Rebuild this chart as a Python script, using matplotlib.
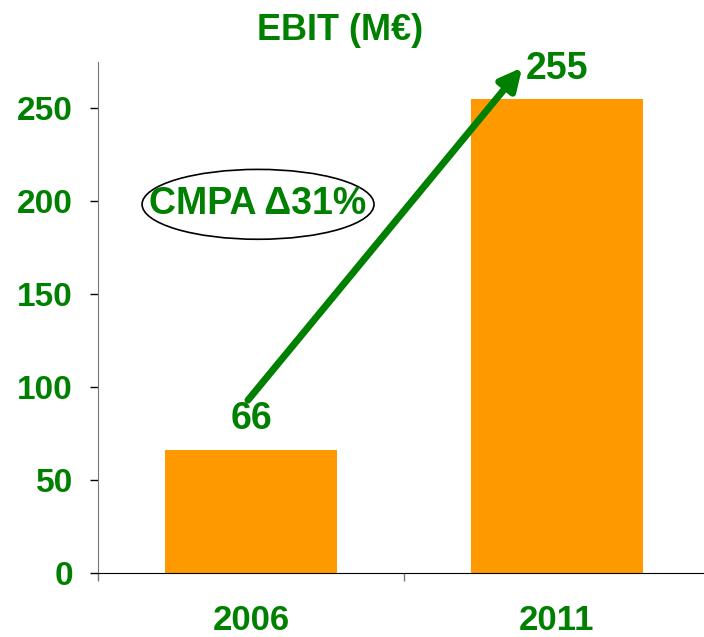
import matplotlib
matplotlib.use("Agg")
import matplotlib.pyplot as plt
from matplotlib.patches import Ellipse

years = ["2006", "2011"]
ebit = [66, 255]
yticks = [0, 50, 100, 150, 200, 250]
title = "EBIT (M€)"
cagr_label = "CMPA Δ31%"

GREEN = "#008000"
ORANGE = "#FF9900"
fam = ["Liberation Sans", "DejaVu Sans"]

fig = plt.figure(figsize=(7.04, 6.37), dpi=100)
ax = fig.add_axes([98/704, 1-573/637, 612/704, (573-62)/637])

x = list(range(len(years)))
ax.bar(x, ebit, width=0.56, color=ORANGE, zorder=2)
ax.set_xlim(-0.5, 1.5)
ax.set_ylim(0, 275)

ax.set_yticks(yticks)
ax.set_yticklabels([str(v) for v in yticks], fontsize=24, fontweight="bold",
                   color=GREEN, family=fam)
ax.tick_params(axis="y", length=6, width=1, color="black", pad=12)

ax.set_xticks(x)
ax.set_xticklabels(years, fontsize=25, fontweight="bold", color=GREEN, family=fam)
ax.tick_params(axis="x", which="major", length=0, pad=22)
ax.set_xticks([-0.5, 0.5, 1.5], minor=True)
ax.tick_params(axis="x", which="minor", length=6, width=1, color="#777777")

for s in ["top", "right"]:
    ax.spines[s].set_visible(False)
ax.spines["left"].set_color("#777777")
ax.spines["bottom"].set_color("black")

fig.text(340/704, 1-30/637, title, ha="center", va="center", fontsize=26,
         fontweight="bold", color=GREEN, family=fam)

# value labels
ax.text(x[0], ebit[0] + 7, str(ebit[0]), ha="center", va="bottom", fontsize=27,
        fontweight="bold", color=GREEN, family=fam)
ax.text(x[1], 271, str(ebit[1]), ha="center", va="center", fontsize=27,
        fontweight="bold", color=GREEN, family=fam)

# growth arrow
ax.annotate("", xy=(0.886, 272), xytext=(-0.01, 93),
            arrowprops=dict(arrowstyle="-|>,head_length=1.3,head_width=0.65",
                            color=GREEN, lw=5, shrinkA=0, shrinkB=0), zorder=3)

# CAGR ellipse
ax.add_patch(Ellipse((0.023, 198.4), 0.758, 37.6, facecolor="white",
                     edgecolor="black", lw=1.2, zorder=4))
ax.text(0.023, 198.4, cagr_label, ha="center", va="center", fontsize=27,
        fontweight="bold", color=GREEN, family=fam, zorder=5)

fig.savefig("out.png", dpi=100)
